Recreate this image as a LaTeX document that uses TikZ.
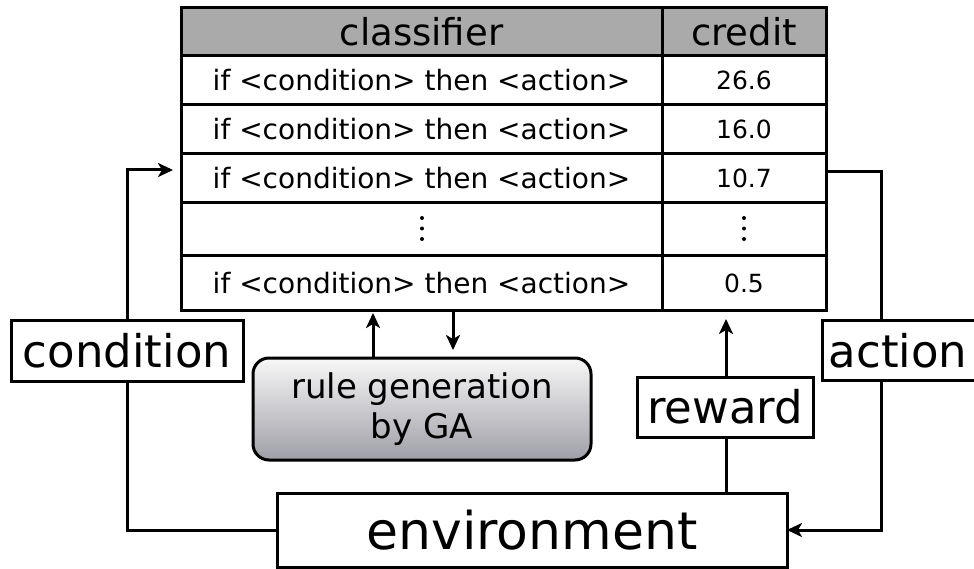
\documentclass[tikz,border=0pt]{standalone}
\usepackage{fontspec}
\setmainfont{DejaVu Sans}
\usetikzlibrary{arrows.meta}

\definecolor{headgray}{RGB}{170,170,170}
\definecolor{gabottom}{RGB}{158,158,166}

\tikzset{
  every node/.style={inner sep=0pt, outer sep=0pt},
  cell/.style={draw, line width=3pt, fill=white, anchor=center},
  headcell/.style={cell, fill=headgray, font=\fontsize{37}{37}\selectfont},
  rulecell/.style={cell, font=\fontsize{28}{28}\selectfont},
  numcell/.style={cell, font=\fontsize{25}{25}\selectfont},
  labelbox/.style={draw, line width=3pt, fill=white, font=\fontsize{45}{45}\selectfont},
  gabox/.style={draw, line width=3pt, rounded corners=16pt, top color=white!97!black,
    bottom color=gabottom, align=center, font=\fontsize{34}{40}\selectfont},
  envbox/.style={draw, line width=3pt, fill=white, font=\fontsize{52}{52}\selectfont},
  conn/.style={line width=3pt},
  arr/.style={conn, -{Stealth[length=15pt, width=14pt, inset=4pt]}},
  vdot/.style={fill=black, circle, minimum size=4pt}
}

\begin{document}
\begin{tikzpicture}[x=1pt, y=-1pt]
\useasboundingbox (0,0) rectangle (974,569);
\clip (0,0) rectangle (974,569);

% classifier table: column 1 spans 181-662, column 2 spans 662-826
\node[headcell, minimum width=481pt, minimum height=48pt] (h1) at (421.5,32) {classifier};
\node[headcell, minimum width=164pt, minimum height=48pt] (h2) at (744,32) {credit};

\node[rulecell, minimum width=481pt, minimum height=49pt] (c11) at (421.5,80.5) {if <condition> then <action>};
\node[numcell, minimum width=164pt, minimum height=49pt] (c12) at (744,80.5) {26.6};

\node[rulecell, minimum width=481pt, minimum height=49pt] (c21) at (421.5,129.5) {if <condition> then <action>};
\node[numcell, minimum width=164pt, minimum height=49pt] (c22) at (744,129.5) {16.0};

\node[rulecell, minimum width=481pt, minimum height=49pt] (c31) at (421.5,178.5) {if <condition> then <action>};
\node[numcell, minimum width=164pt, minimum height=49pt] (c32) at (744,178.5) {10.7};

\node[rulecell, minimum width=481pt, minimum height=53pt] (c41) at (421.5,229.5) {};
\node[numcell, minimum width=164pt, minimum height=53pt] (c42) at (744,229.5) {};

\node[rulecell, minimum width=481pt, minimum height=54pt] (c51) at (421.5,283) {if <condition> then <action>};
\node[numcell, minimum width=164pt, minimum height=54pt] (c52) at (744,283) {0.5};

% vertical ellipses in the elided row
\foreach \cx/\nm in {422/l, 744/r}{
  \node[vdot] (d\nm1) at (\cx,218) {};
  \node[vdot] (d\nm2) at (\cx,228.5) {};
  \node[vdot] (d\nm3) at (\cx,239) {};
}

% surrounding boxes
\node[labelbox, minimum width=232pt, minimum height=61pt] (cond) at (127,350.5) {condition};
\node[labelbox, minimum width=156pt, minimum height=60pt, anchor=west] (act) at (822,350.5) {\hspace*{-4pt}action};
\node[labelbox, minimum width=176pt, minimum height=60pt] (rew) at (725,407) {reward};
\node[gabox, minimum width=338pt, minimum height=102pt] (ga) at (422,409) {rule generation\\by GA};
\node[envbox, minimum width=510pt, minimum height=74pt] (env) at (532,530) {environment};

% connector end points
\coordinate (condIn) at (173,170);
\coordinate (actOut) at (881,172);
\coordinate (gaUp) at (373,313);
\coordinate (gaDown) at (453,350);
\coordinate (rewUp) at (726,319);

% condition: environment -> classifier list
\draw[conn] (env.west) -| (cond.south);
\draw[arr] (cond.north) |- (condIn);

% action: classifier list -> environment
\draw[conn] (c32.east |- actOut) -- (actOut) -- (actOut |- act.north);
\draw[arr] (actOut |- act.south) |- (env.east);

% reward: environment -> credit column
\draw[conn] (env.north -| rewUp) -- (rew.south -| rewUp);
\draw[arr] (rew.north -| rewUp) -- (rewUp);

% rule generation by GA
\draw[arr] (ga.north -| gaUp) -- (gaUp);
\draw[arr] (c51.south -| gaDown) -- (gaDown);
\end{tikzpicture}
\end{document}
